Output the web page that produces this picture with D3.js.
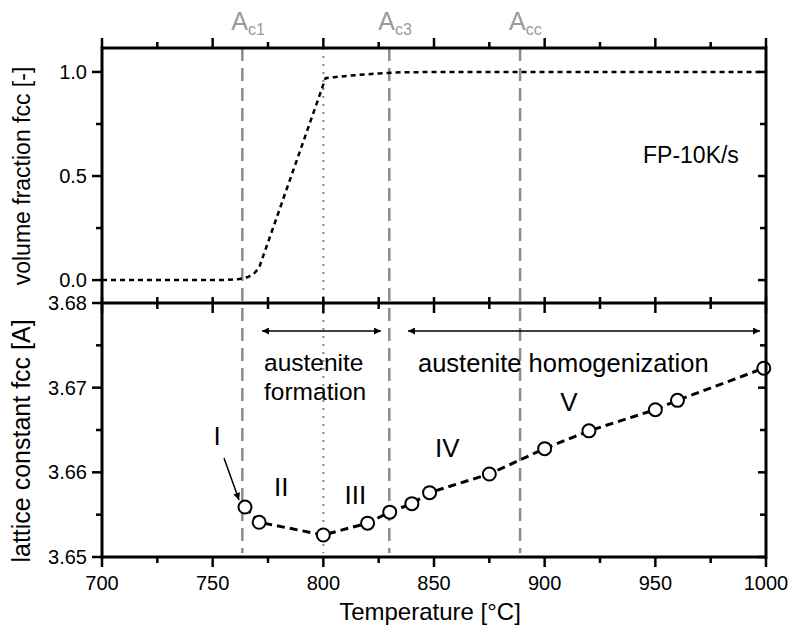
<!DOCTYPE html>
<html><head><meta charset="utf-8">
<script src="https://cdn.jsdelivr.net/npm/d3@7"></script>
<style>body{margin:0;background:#fff}svg{display:block}text{font-family:"Liberation Sans",Arial,sans-serif}</style>
</head><body>
<script>
// ---- data ----
const fracTemps  = [700, 755, 762, 766, 769, 771, 801, 805, 815, 825, 835, 850, 1000];
const fracValues = [0, 0, 0.005, 0.015, 0.035, 0.06, 0.97, 0.975, 0.985, 0.993, 0.998, 1.0, 1.0];
const latTemps   = [764.6, 771, 800, 820, 830, 840, 848, 875, 900, 920, 950, 960, 999];
const latValues  = [3.6559, 3.6541, 3.6526, 3.6540, 3.6553, 3.6563, 3.6576, 3.6598, 3.6628, 3.6649, 3.6674, 3.6685, 3.6723];
const xTicks     = [700, 750, 800, 850, 900, 950, 1000];
const fracTicks  = [0.0, 0.5, 1.0];
const latTicks   = [3.65, 3.66, 3.67, 3.68];
const critTemps  = [763.4, 829.8, 888.9];
const critSubs   = ["c1", "c3", "cc"];
const dottedTemp = 800;
const romans     = [{t:"I",x:752,y:3.6632},{t:"II",x:781,y:3.6572},{t:"III",x:814.5,y:3.6563},{t:"IV",x:856,y:3.6618},{t:"V",x:911,y:3.6673}];

const W = 789, H = 634;
const L = 102, R = 766, T = 48, MID = 303, B = 557;
const svg = d3.select("body").append("svg").attr("width", W).attr("height", H);
svg.append("rect").attr("width", W).attr("height", H).attr("fill", "#fff");

const x = d3.scaleLinear([700, 1000], [L, R]);
const yF = d3.scaleLinear([-0.11, 1.115], [MID, T]);
const yL = d3.scaleLinear([3.65, 3.68], [B, MID]);

const minorX = d3.range(725, 1000, 50);

// grey critical lines
svg.selectAll(".crit").data(critTemps).join("line")
  .attr("x1", d => x(d)).attr("x2", d => x(d)).attr("y1", T).attr("y2", B - 4)
  .attr("stroke", "#8c8c8c").attr("stroke-width", 2.5).attr("stroke-dasharray", "13,7");
svg.append("line").attr("x1", x(dottedTemp)).attr("x2", x(dottedTemp)).attr("y1", T).attr("y2", B - 4)
  .attr("stroke", "#8c8c8c").attr("stroke-width", 2.2).attr("stroke-dasharray", "2,6");

// critical labels
critTemps.forEach((t, i) => {
  const g = svg.append("text").attr("x", x(t) - 11).attr("y", 30).attr("fill", "#9a9a9a").attr("font-size", 25);
  g.append("tspan").text("A");
  g.append("tspan").attr("font-size", 16).attr("dy", 5).text(critSubs[i]);
});

// fraction curve
const fracData = fracTemps.map((t, i) => [t, fracValues[i]]);
svg.append("path").datum(fracData)
  .attr("d", d3.line().x(d => x(d[0])).y(d => yF(d[1])))
  .attr("fill", "none").attr("stroke", "#000").attr("stroke-width", 2.5).attr("stroke-dasharray", "5,4");

// lattice curve
const latData = latTemps.map((t, i) => [t, latValues[i]]);
svg.append("path").datum(latData)
  .attr("d", d3.line().x(d => x(d[0])).y(d => yL(d[1])))
  .attr("fill", "none").attr("stroke", "#000").attr("stroke-width", 3).attr("stroke-dasharray", "8,5");
svg.selectAll(".pt").data(latData).join("circle")
  .attr("cx", d => x(d[0])).attr("cy", d => yL(d[1])).attr("r", 6.5)
  .attr("fill", "#fff").attr("stroke", "#000").attr("stroke-width", 2);

// frame / axes
const axW = 3;
function hline(y) { svg.append("line").attr("x1", L).attr("x2", R).attr("y1", y).attr("y2", y).attr("stroke", "#000").attr("stroke-width", axW); }
function vline(xx, y1, y2) { svg.append("line").attr("x1", xx).attr("x2", xx).attr("y1", y1).attr("y2", y2).attr("stroke", "#000").attr("stroke-width", axW); }
hline(T); hline(MID); hline(B);
vline(L, T - 1.5, B + 1.5); vline(R, T - 1.5, B + 1.5);

function ticksX(y, up, down, vals) {
  svg.append("g").selectAll("line").data(vals).join("line")
    .attr("x1", d => x(d)).attr("x2", d => x(d)).attr("y1", y - up).attr("y2", y + down)
    .attr("stroke", "#000").attr("stroke-width", 2.5);
}
ticksX(T, 10, 0, xTicks); ticksX(T, 6, 0, minorX);
ticksX(MID, 6, 10, xTicks); ticksX(MID, 6, 6, minorX);
ticksX(B, 0, 10, xTicks); ticksX(B, 0, 6, minorX);

function ticksY(scale, xx, left, right, vals) {
  svg.append("g").selectAll("line").data(vals).join("line")
    .attr("x1", xx - left).attr("x2", xx + right).attr("y1", d => scale(d)).attr("y2", d => scale(d))
    .attr("stroke", "#000").attr("stroke-width", 2.5);
}
ticksY(yF, L, 10, 0, fracTicks); ticksY(yF, L, 6, 0, [0.25, 0.75]);
ticksY(yF, R, 8, 0, fracTicks); ticksY(yF, R, 6, 0, [0.25, 0.75]);
ticksY(yL, L, 10, 0, latTicks); ticksY(yL, L, 6, 0, [3.655, 3.665, 3.675]);
ticksY(yL, R, 8, 0, latTicks.slice(0, 3)); ticksY(yL, R, 6, 0, [3.655, 3.665, 3.675]);

// tick labels
svg.append("g").selectAll("text").data(xTicks).join("text")
  .attr("x", d => x(d)).attr("y", 590).attr("text-anchor", "middle").attr("font-size", 20)
  .text(d => d);
svg.append("g").selectAll("text").data(fracTicks).join("text")
  .attr("x", L - 15).attr("y", d => yF(d) + 7).attr("text-anchor", "end").attr("font-size", 20)
  .text(d => d3.format(".1f")(d));
svg.append("g").selectAll("text").data(latTicks).join("text")
  .attr("x", L - 15).attr("y", d => yL(d) + 7).attr("text-anchor", "end").attr("font-size", 20)
  .text(d => d3.format(".2f")(d));

// axis titles
svg.append("text").attr("x", 430).attr("y", 620).attr("text-anchor", "middle").attr("font-size", 24).text("Temperature [°C]");
svg.append("text").attr("transform", "translate(30,176) rotate(-90)").attr("text-anchor", "middle").attr("font-size", 23).text("volume fraction fcc [-]");
svg.append("text").attr("transform", "translate(30,441) rotate(-90)").attr("text-anchor", "middle").attr("font-size", 25).text("lattice constant fcc [A]");

// annotations
svg.append("text").attr("x", 643).attr("y", 163).attr("font-size", 23).text("FP-10K/s");
svg.append("text").attr("x", 264).attr("y", 371).attr("font-size", 24.5).text("austenite");
svg.append("text").attr("x", 264).attr("y", 400).attr("font-size", 24.5).text("formation");
svg.append("text").attr("x", 418).attr("y", 372).attr("font-size", 25.5).text("austenite homogenization");

svg.selectAll(".rom").data(romans).join("text")
  .attr("x", d => x(d.x)).attr("y", d => yL(d.y)).attr("text-anchor", "middle").attr("font-size", 26)
  .text(d => d.t);

// arrows
const defs = svg.append("defs");
defs.append("marker").attr("id", "ah").attr("viewBox", "0 0 10 10").attr("refX", 10).attr("refY", 5)
  .attr("markerWidth", 14).attr("markerHeight", 7).attr("markerUnits", "userSpaceOnUse").attr("orient", "auto-start-reverse")
  .append("path").attr("d", "M0,0 L10,5 L0,10 z").attr("fill", "#000");
function arrow(x1, y1, x2, y2, both) {
  const l = svg.append("line").attr("x1", x1).attr("y1", y1).attr("x2", x2).attr("y2", y2)
    .attr("stroke", "#000").attr("stroke-width", 1.5).attr("marker-end", "url(#ah)");
  if (both) l.attr("marker-start", "url(#ah)");
}
arrow(262, 331, 381, 331, true);
arrow(408, 331, 760, 331, true);
arrow(224, 458, 239, 500, false);
</script>
</body></html>
